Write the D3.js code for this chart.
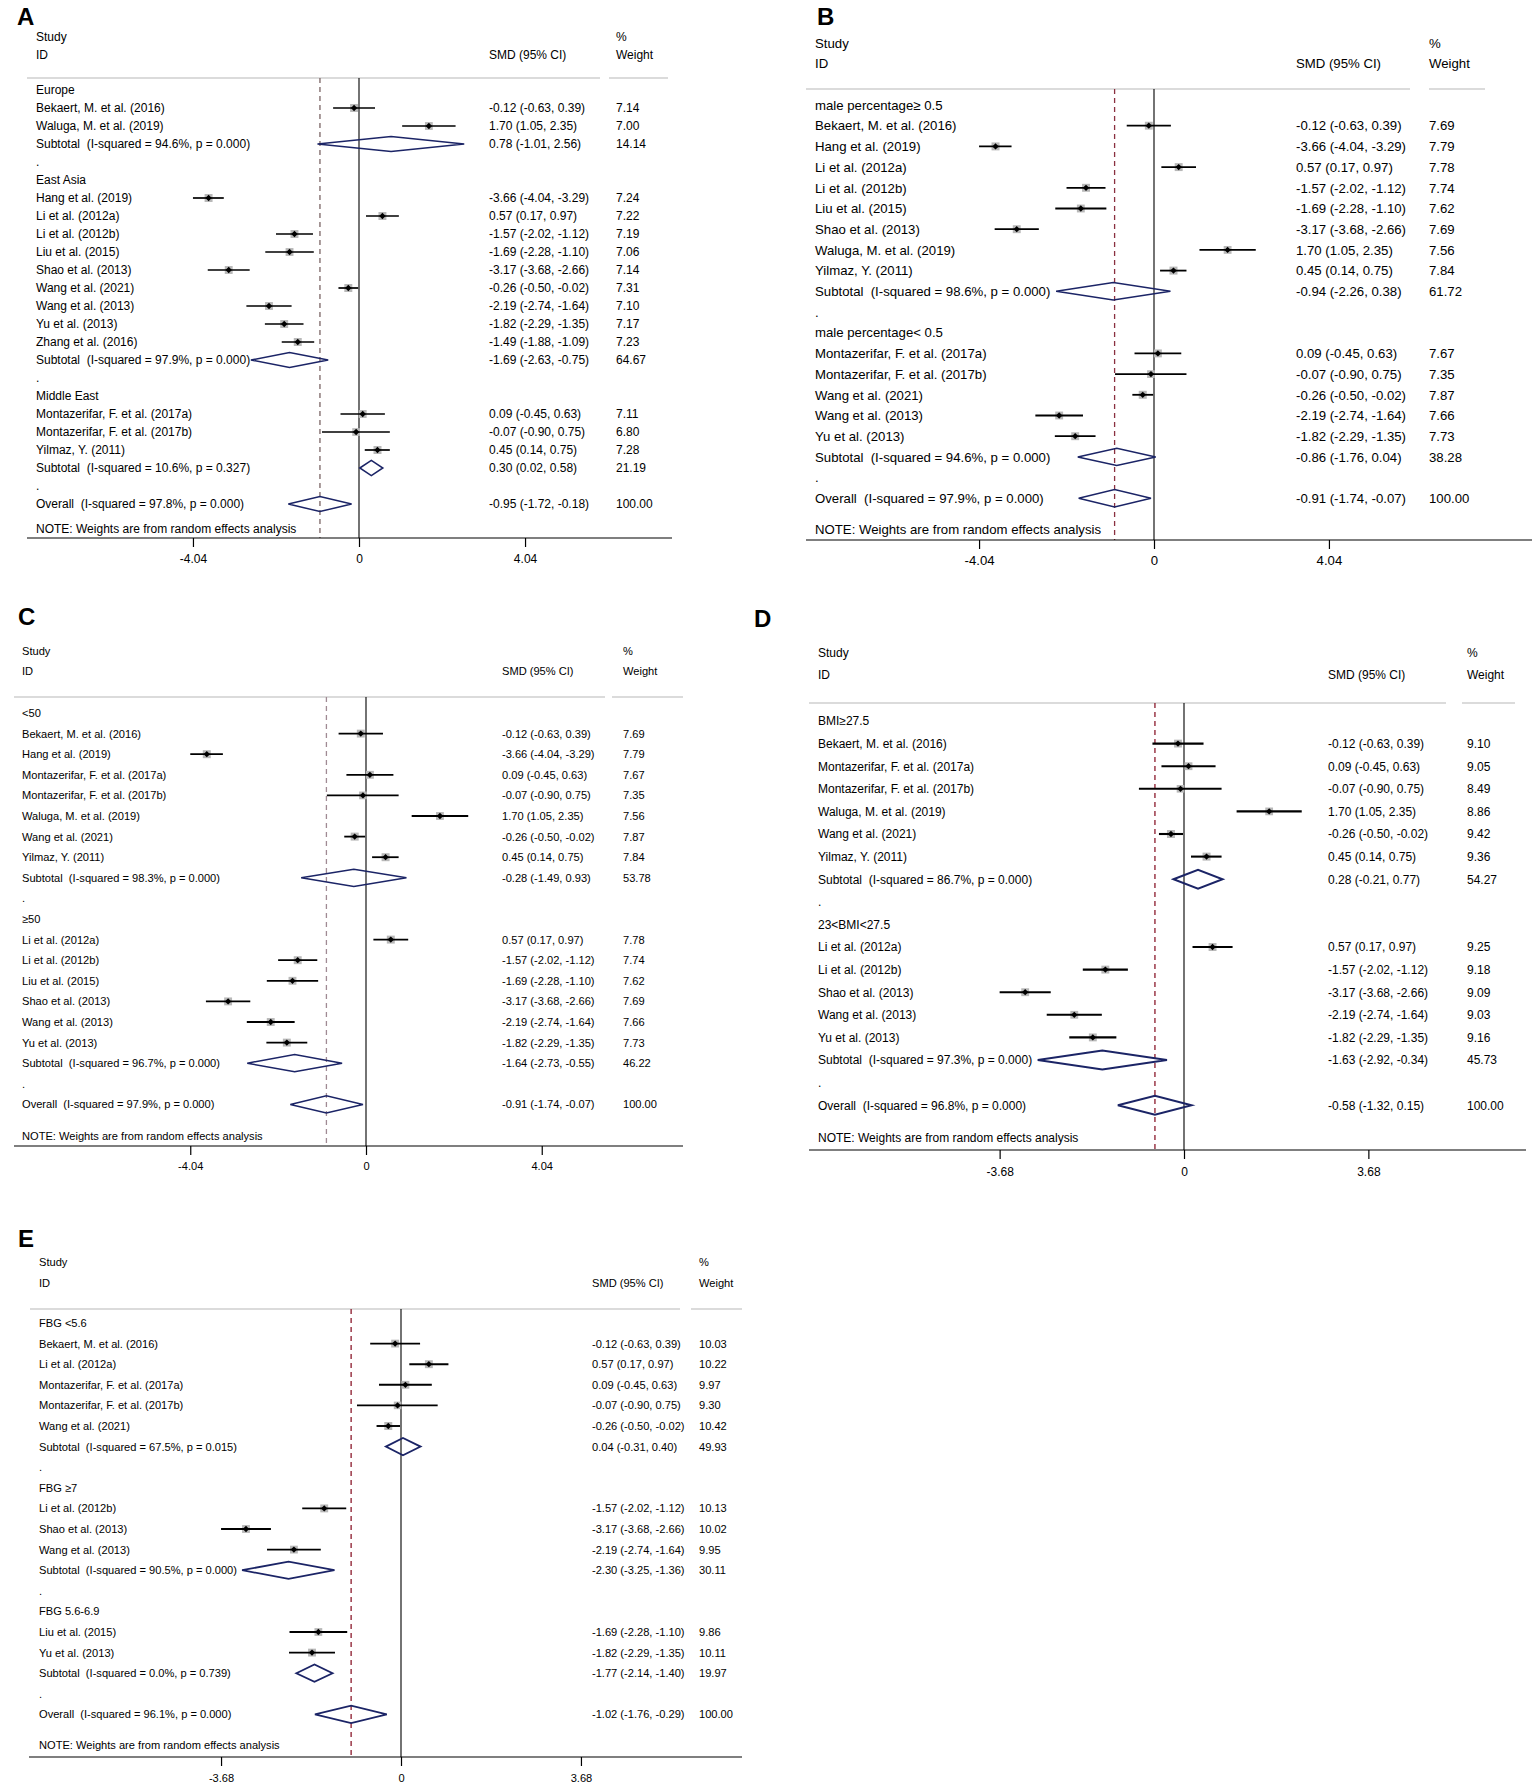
<!DOCTYPE html>
<html><head><meta charset="utf-8">
<script src="https://cdn.jsdelivr.net/npm/d3@7/dist/d3.min.js"></script>
<style>
body{margin:0;background:#fff}
svg text{font-family:"Liberation Sans",Arial,Helvetica,sans-serif;white-space:pre;fill:#000}
</style>
</head><body>
<svg id="chart" width="1536" height="1785"></svg>
<script>
// Row format: [label, type, est, lo, hi, weight, Isq, p]
// type: g = group heading, s = study, t = subtotal, b = blank ".", o = overall
const A_rows = [
  ["Europe","g"],
  ["Bekaert, M. et al. (2016)","s",-0.12,-0.63,0.39,7.14],
  ["Waluga, M. et al. (2019)","s",1.70,1.05,2.35,7.00],
  ["Subtotal","t",0.78,-1.01,2.56,14.14,94.6,"0.000"],
  [".","b"],
  ["East Asia","g"],
  ["Hang et al. (2019)","s",-3.66,-4.04,-3.29,7.24],
  ["Li et al. (2012a)","s",0.57,0.17,0.97,7.22],
  ["Li et al. (2012b)","s",-1.57,-2.02,-1.12,7.19],
  ["Liu et al. (2015)","s",-1.69,-2.28,-1.10,7.06],
  ["Shao et al. (2013)","s",-3.17,-3.68,-2.66,7.14],
  ["Wang et al. (2021)","s",-0.26,-0.50,-0.02,7.31],
  ["Wang et al. (2013)","s",-2.19,-2.74,-1.64,7.10],
  ["Yu et al. (2013)","s",-1.82,-2.29,-1.35,7.17],
  ["Zhang et al. (2016)","s",-1.49,-1.88,-1.09,7.23],
  ["Subtotal","t",-1.69,-2.63,-0.75,64.67,97.9,"0.000"],
  [".","b"],
  ["Middle East","g"],
  ["Montazerifar, F. et al. (2017a)","s",0.09,-0.45,0.63,7.11],
  ["Montazerifar, F. et al. (2017b)","s",-0.07,-0.90,0.75,6.80],
  ["Yilmaz, Y. (2011)","s",0.45,0.14,0.75,7.28],
  ["Subtotal","t",0.30,0.02,0.58,21.19,10.6,"0.327"],
  [".","b"],
  ["Overall","o",-0.95,-1.72,-0.18,100.00,97.8,"0.000"]
];
const B_rows = [
  ["male percentage\u2265 0.5","g"],
  ["Bekaert, M. et al. (2016)","s",-0.12,-0.63,0.39,7.69],
  ["Hang et al. (2019)","s",-3.66,-4.04,-3.29,7.79],
  ["Li et al. (2012a)","s",0.57,0.17,0.97,7.78],
  ["Li et al. (2012b)","s",-1.57,-2.02,-1.12,7.74],
  ["Liu et al. (2015)","s",-1.69,-2.28,-1.10,7.62],
  ["Shao et al. (2013)","s",-3.17,-3.68,-2.66,7.69],
  ["Waluga, M. et al. (2019)","s",1.70,1.05,2.35,7.56],
  ["Yilmaz, Y. (2011)","s",0.45,0.14,0.75,7.84],
  ["Subtotal","t",-0.94,-2.26,0.38,61.72,98.6,"0.000"],
  [".","b"],
  ["male percentage< 0.5","g"],
  ["Montazerifar, F. et al. (2017a)","s",0.09,-0.45,0.63,7.67],
  ["Montazerifar, F. et al. (2017b)","s",-0.07,-0.90,0.75,7.35],
  ["Wang et al. (2021)","s",-0.26,-0.50,-0.02,7.87],
  ["Wang et al. (2013)","s",-2.19,-2.74,-1.64,7.66],
  ["Yu et al. (2013)","s",-1.82,-2.29,-1.35,7.73],
  ["Subtotal","t",-0.86,-1.76,0.04,38.28,94.6,"0.000"],
  [".","b"],
  ["Overall","o",-0.91,-1.74,-0.07,100.00,97.9,"0.000"]
];
const C_rows = [
  ["<50","g"],
  ["Bekaert, M. et al. (2016)","s",-0.12,-0.63,0.39,7.69],
  ["Hang et al. (2019)","s",-3.66,-4.04,-3.29,7.79],
  ["Montazerifar, F. et al. (2017a)","s",0.09,-0.45,0.63,7.67],
  ["Montazerifar, F. et al. (2017b)","s",-0.07,-0.90,0.75,7.35],
  ["Waluga, M. et al. (2019)","s",1.70,1.05,2.35,7.56],
  ["Wang et al. (2021)","s",-0.26,-0.50,-0.02,7.87],
  ["Yilmaz, Y. (2011)","s",0.45,0.14,0.75,7.84],
  ["Subtotal","t",-0.28,-1.49,0.93,53.78,98.3,"0.000"],
  [".","b"],
  ["\u226550","g"],
  ["Li et al. (2012a)","s",0.57,0.17,0.97,7.78],
  ["Li et al. (2012b)","s",-1.57,-2.02,-1.12,7.74],
  ["Liu et al. (2015)","s",-1.69,-2.28,-1.10,7.62],
  ["Shao et al. (2013)","s",-3.17,-3.68,-2.66,7.69],
  ["Wang et al. (2013)","s",-2.19,-2.74,-1.64,7.66],
  ["Yu et al. (2013)","s",-1.82,-2.29,-1.35,7.73],
  ["Subtotal","t",-1.64,-2.73,-0.55,46.22,96.7,"0.000"],
  [".","b"],
  ["Overall","o",-0.91,-1.74,-0.07,100.00,97.9,"0.000"]
];
const D_rows = [
  ["BMI\u226527.5","g"],
  ["Bekaert, M. et al. (2016)","s",-0.12,-0.63,0.39,9.10],
  ["Montazerifar, F. et al. (2017a)","s",0.09,-0.45,0.63,9.05],
  ["Montazerifar, F. et al. (2017b)","s",-0.07,-0.90,0.75,8.49],
  ["Waluga, M. et al. (2019)","s",1.70,1.05,2.35,8.86],
  ["Wang et al. (2021)","s",-0.26,-0.50,-0.02,9.42],
  ["Yilmaz, Y. (2011)","s",0.45,0.14,0.75,9.36],
  ["Subtotal","t",0.28,-0.21,0.77,54.27,86.7,"0.000"],
  [".","b"],
  ["23<BMI<27.5","g"],
  ["Li et al. (2012a)","s",0.57,0.17,0.97,9.25],
  ["Li et al. (2012b)","s",-1.57,-2.02,-1.12,9.18],
  ["Shao et al. (2013)","s",-3.17,-3.68,-2.66,9.09],
  ["Wang et al. (2013)","s",-2.19,-2.74,-1.64,9.03],
  ["Yu et al. (2013)","s",-1.82,-2.29,-1.35,9.16],
  ["Subtotal","t",-1.63,-2.92,-0.34,45.73,97.3,"0.000"],
  [".","b"],
  ["Overall","o",-0.58,-1.32,0.15,100.00,96.8,"0.000"]
];
const E_rows = [
  ["FBG <5.6","g"],
  ["Bekaert, M. et al. (2016)","s",-0.12,-0.63,0.39,10.03],
  ["Li et al. (2012a)","s",0.57,0.17,0.97,10.22],
  ["Montazerifar, F. et al. (2017a)","s",0.09,-0.45,0.63,9.97],
  ["Montazerifar, F. et al. (2017b)","s",-0.07,-0.90,0.75,9.30],
  ["Wang et al. (2021)","s",-0.26,-0.50,-0.02,10.42],
  ["Subtotal","t",0.04,-0.31,0.40,49.93,67.5,"0.015"],
  [".","b"],
  ["FBG \u22657","g"],
  ["Li et al. (2012b)","s",-1.57,-2.02,-1.12,10.13],
  ["Shao et al. (2013)","s",-3.17,-3.68,-2.66,10.02],
  ["Wang et al. (2013)","s",-2.19,-2.74,-1.64,9.95],
  ["Subtotal","t",-2.30,-3.25,-1.36,30.11,90.5,"0.000"],
  [".","b"],
  ["FBG 5.6-6.9","g"],
  ["Liu et al. (2015)","s",-1.69,-2.28,-1.10,9.86],
  ["Yu et al. (2013)","s",-1.82,-2.29,-1.35,10.11],
  ["Subtotal","t",-1.77,-2.14,-1.40,19.97,0.0,"0.739"],
  [".","b"],
  ["Overall","o",-1.02,-1.76,-0.29,100.00,96.1,"0.000"]
];
const ticks_ABC = [-4.04, 0, 4.04];
const ticks_DE = [-3.68, 0, 3.68];
const headerLeft = ["Study","ID"];
const headerMid = "SMD (95% CI)";
const headerRight = ["%","Weight"];
const noteText = "NOTE: Weights are from random effects analysis";

// layout (positions / styles only)
const panels = [
  {id:"A", rows:A_rows, ticks:ticks_ABC, dash:"#7a6464", font:12, lab:[17,25], sx:36, hy:[37,55], smdX:489, wX:616,
   hl:78, seg1:[27,600], seg2:[609,668], y0:90, pitch:18, zero:359, unit:41.1, noteY:529, axisY:538, axisX:[27,672], tly:559, lw:1.7, dw:1.5},
  {id:"B", rows:B_rows, ticks:ticks_ABC, dash:"#8a3040", font:13.2, lab:[817,25], sx:815, hy:[43,63], smdX:1296, wX:1429,
   hl:89, seg1:[806,1410], seg2:[1429,1485], y0:105, pitch:20.7, zero:1154, unit:43.3, noteY:529, axisY:540, axisX:[806,1532], tly:560, lw:1.8, dw:1.5},
  {id:"C", rows:C_rows, ticks:ticks_ABC, dash:"#a08a94", font:11.1, lab:[18,625], sx:22, hy:[651,671], smdX:502, wX:623,
   hl:697, seg1:[14,605], seg2:[612,683], y0:713, pitch:20.6, zero:366, unit:43.5, noteY:1136, axisY:1146, axisX:[14,683], tly:1166, lw:1.8, dw:1.5},
  {id:"D", rows:D_rows, ticks:ticks_DE, dash:"#8b1a2c", font:12, lab:[754,627], sx:818, hy:[653,675], smdX:1328, wX:1467,
   hl:703, seg1:[809,1446], seg2:[1462,1515], y0:721, pitch:22.6, zero:1184, unit:50.1, noteY:1138, axisY:1150, axisX:[809,1526], tly:1172, lw:2.1, dw:2.0},
  {id:"E", rows:E_rows, ticks:ticks_DE, dash:"#8b1a2c", font:11.1, lab:[18,1247], sx:39, hy:[1262,1283], smdX:592, wX:699,
   hl:1309, seg1:[30,680], seg2:[691,742], y0:1323, pitch:20.6, zero:401, unit:48.9, noteY:1745, axisY:1757, axisX:[29,742], tly:1778, lw:1.9, dw:1.8}
];

const svg = d3.select("#chart");
const navy = "#1b2466";
const f2 = d3.format(".2f");
const fmt = v => f2(v).replace("\u2212","-");

panels.forEach(P => {
  const g = svg.append("g");
  const lim = P.ticks[2];
  const x = d3.scaleLinear().domain([-lim, lim]).range([P.zero - lim*P.unit, P.zero + lim*P.unit]);
  const y = d3.scaleLinear().domain([0, 1]).range([P.y0, P.y0 + P.pitch]);
  const fs = P.font;

  g.append("text").attr("x", P.lab[0]).attr("y", P.lab[1]).text(P.id)
    .style("font-size","24px").style("font-weight","bold").style("fill","#000");

  const T = (xx, yy, s) => g.append("text").attr("x", xx).attr("y", yy).attr("dy","0.36em")
      .style("font-size", fs + "px").text(s);
  T(P.sx, P.hy[0], headerLeft[0]); T(P.sx, P.hy[1], headerLeft[1]);
  T(P.smdX, P.hy[1], headerMid);
  T(P.wX, P.hy[0], headerRight[0]); T(P.wX, P.hy[1], headerRight[1]);

  g.append("line").attr("x1",P.seg1[0]).attr("x2",P.seg1[1]).attr("y1",P.hl).attr("y2",P.hl)
    .attr("stroke","#cfcfcf").attr("stroke-width",1.5);
  g.append("line").attr("x1",P.seg2[0]).attr("x2",P.seg2[1]).attr("y1",P.hl).attr("y2",P.hl)
    .attr("stroke","#cfcfcf").attr("stroke-width",1.5);

  const overall = P.rows.find(r => r[1] === "o");
  g.append("line").attr("x1",x(0)).attr("x2",x(0)).attr("y1",P.hl).attr("y2",P.axisY)
    .attr("stroke","#000").attr("stroke-width",1.1);
  g.append("line").attr("x1",x(overall[2])).attr("x2",x(overall[2])).attr("y1",P.hl).attr("y2",P.axisY)
    .attr("stroke",P.dash).attr("stroke-width",1.3).attr("stroke-dasharray","5,4");

  const maxW = d3.max(P.rows.filter(r => r[1] === "s"), r => r[5]);

  P.rows.forEach((r, i) => {
    const yy = y(i);
    const type = r[1];
    let label = r[0];
    if (type === "t" || type === "o") label = `${r[0]}  (I-squared = ${r[6].toFixed(1)}%, p = ${r[7]})`;
    T(P.sx, yy, label);
    if (type === "s" || type === "t" || type === "o") {
      T(P.smdX, yy, `${fmt(r[2])} (${fmt(r[3])}, ${fmt(r[4])})`);
      T(P.wX, yy, fmt(r[5]));
    }
    if (type === "s") {
      const side = 8 * Math.sqrt(r[5] / maxW);
      g.append("rect").attr("x", x(r[2]) - side/2).attr("y", yy - side/2)
        .attr("width", side).attr("height", side).attr("fill", "#b8b8b8");
      g.append("line").attr("x1", x(r[3])).attr("x2", x(r[4])).attr("y1", yy).attr("y2", yy)
        .attr("stroke", "#000").attr("stroke-width", P.lw);
      g.append("path").attr("d", d3.symbol(d3.symbolSquare, 20)())
        .attr("transform", `translate(${x(r[2])},${yy}) rotate(45)`).attr("fill", "#000");
    }
    if (type === "t" || type === "o") {
      const h = P.pitch * 0.42;
      const pts = [[x(r[3]), yy], [x(r[2]), yy - h], [x(r[4]), yy], [x(r[2]), yy + h]];
      g.append("path").attr("d", d3.line()(pts) + "Z")
        .attr("fill", "none").attr("stroke", navy).attr("stroke-width", P.dw).attr("stroke-linejoin","miter");
    }
  });

  T(P.sx, P.noteY, noteText);

  g.append("line").attr("x1",P.axisX[0]).attr("x2",P.axisX[1]).attr("y1",P.axisY).attr("y2",P.axisY)
    .attr("stroke","#000").attr("stroke-width",1.2);
  const ax = g.append("g").attr("transform", `translate(0,${P.axisY})`)
    .call(d3.axisBottom(x).tickValues(P.ticks).tickSize(9).tickSizeOuter(0)
      .tickFormat(d => d === 0 ? "0" : fmt(d)));
  ax.select(".domain").remove();
  ax.selectAll(".tick line").attr("stroke","#000").attr("stroke-width",1.2);
  ax.selectAll(".tick text")
    .attr("y", P.tly - P.axisY).attr("dy","0.36em")
    .style("font-size", fs + "px").style("font-family", null).attr("fill","#000");
});
</script>
</body></html>
